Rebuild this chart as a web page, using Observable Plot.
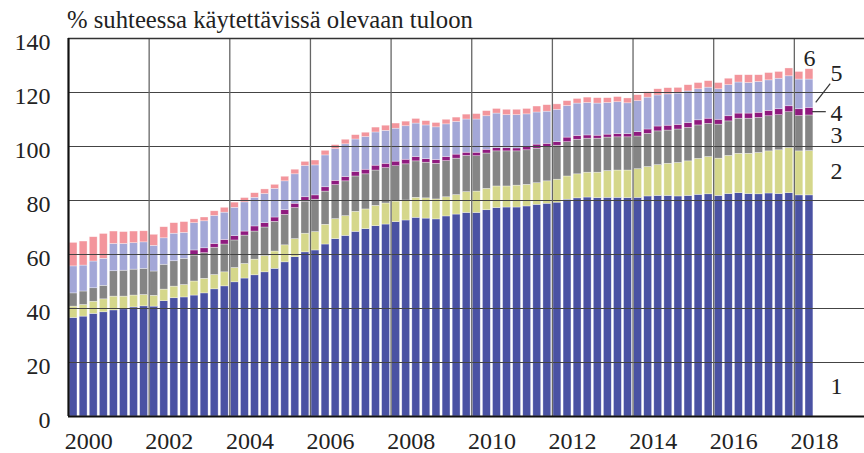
<!DOCTYPE html>
<html><head><meta charset="utf-8">
<script src="https://cdn.jsdelivr.net/npm/d3@7"></script>
<script src="https://cdn.jsdelivr.net/npm/@observablehq/plot@0.6"></script>
<style>body{margin:0;background:#fff}#chart svg{display:block}</style>
</head><body><div id="chart"></div>
<script>
const titleText = "% suhteessa käytettävissä olevaan tuloon";
const startYear = 2000;
const seriesNames = ["1","2","3","4","5","6"];
const yTicks = [0,20,40,60,80,100,120,140];
const yearLabels = [2000,2002,2004,2006,2008,2010,2012,2014,2016,2018];
const gridYears = [2002,2004,2006,2008,2010,2012,2014,2016,2018];

// quarterly values, 2000Q1 .. 2018Q2
const s1 = [36.5,37.0,38.0,38.6,39.3,39.7,40.4,40.8,
 40.7,42.7,43.8,44.1,44.8,45.6,47.1,48.2,
 49.7,51.1,52.3,53.4,54.7,57.1,59.0,60.8,
 61.5,63.7,65.7,66.9,68.4,69.4,70.5,71.1,
 72.0,72.6,73.6,73.3,73.0,74.1,74.8,75.4,
 75.4,76.4,77.2,77.4,77.4,77.8,78.4,78.8,
 79.2,80.3,80.8,81.1,80.9,81.0,81.0,80.9,
 81.0,81.5,81.7,81.7,81.5,81.7,82.1,82.3,
 81.7,82.4,82.7,82.4,82.3,82.6,82.4,82.7,
 81.9,81.9];
const s2 = [4.2,4.3,4.5,4.8,5.1,4.7,4.4,4.2,
 4.0,4.3,4.3,4.6,5.2,5.4,5.3,5.2,
 5.3,5.4,5.8,6.0,6.4,6.3,6.7,6.9,
 6.8,7.3,7.4,7.3,7.4,7.3,7.5,7.8,
 7.6,7.4,7.4,7.5,7.4,7.1,7.2,7.7,
 7.9,7.9,8.0,7.8,8.1,8.0,8.0,8.3,
 8.5,8.6,8.9,9.2,9.4,9.9,10.1,10.2,
 10.6,10.9,11.4,11.9,12.4,12.8,13.3,13.8,
 13.8,14.1,14.6,14.9,15.3,15.6,16.2,16.7,
 16.3,16.4];
const s3 = [4.9,5.0,5.0,5.0,9.4,9.6,9.6,9.7,
 9.0,9.2,9.4,9.7,9.6,9.5,10.1,10.3,
 10.2,10.5,10.4,10.6,11.0,11.3,11.5,11.9,
 12.0,12.3,12.6,12.9,13.1,13.0,13.1,13.1,
 13.1,13.4,13.5,13.2,13.2,13.4,13.5,13.4,
 13.1,13.1,13.0,13.0,12.7,12.8,12.8,12.7,
 12.6,12.7,12.8,12.6,12.6,12.4,12.3,12.3,
 12.1,12.3,12.5,12.3,12.4,12.4,12.4,12.3,
 12.6,12.8,13.0,13.0,13.0,13.0,13.0,13.3,
 13.1,13.2];
const s4 = [0,0,0,0,0,0,0,0,
 0,0,0,0,1.9,1.8,1.4,1.7,
 1.6,1.5,1.9,1.6,1.6,1.7,1.6,1.6,
 1.6,1.6,1.6,1.6,1.7,1.7,1.8,1.6,
 1.7,1.7,1.6,1.3,1.4,1.5,1.5,1.2,
 1.3,1.4,1.2,1.2,1.1,1.2,1.5,1.2,
 1.3,1.7,1.4,1.2,1.1,1.1,1.2,1.2,
 1.6,1.6,1.8,1.8,1.7,1.8,1.9,1.9,
 1.8,1.9,1.9,1.9,1.9,2.0,2.2,2.2,
 2.5,2.8];
const s5 = [10.0,9.6,9.9,10.0,10.1,9.9,9.8,9.8,
 9.5,9.8,10.2,9.6,10.1,10.0,10.4,10.1,
 10.5,10.8,10.6,10.8,10.6,10.7,10.9,11.6,
 11.1,11.8,11.7,12.1,12.0,12.1,12.3,12.2,
 12.2,12.4,12.4,12.5,12.1,12.1,12.1,12.3,
 12.3,12.4,12.8,12.2,12.3,12.1,11.9,11.9,
 12.0,11.7,12.0,12.0,11.9,11.7,11.8,11.4,
 11.5,11.8,11.5,11.6,11.6,11.7,11.5,11.5,
 11.3,11.5,11.5,11.3,11.4,11.3,11.3,11.1,
 11.0,10.5];
const s6 = [8.7,8.9,9.0,9.2,4.6,4.4,4.3,4.1,
 4.1,4.1,3.9,4.0,1.4,1.4,1.7,1.8,
 1.9,1.6,1.7,1.7,1.5,1.7,1.7,1.5,
 1.8,1.7,1.5,1.7,1.6,1.6,1.8,1.9,
 1.9,1.7,1.7,1.6,1.6,1.7,1.6,1.8,
 2.0,1.9,1.7,2.0,2.0,2.0,2.2,2.4,
 2.0,1.8,1.7,2.0,2.0,1.8,1.9,1.8,
 2.2,2.0,2.3,2.3,2.1,2.3,2.3,2.4,
 2.3,2.4,2.7,2.9,2.5,2.7,2.5,2.9,
 2.8,3.8];

const seriesValues = [s1,s2,s3,s4,s5,s6];
const colors = ["#4a52a3","#d5d78b","#858585","#8f1a7f","#a3a7d7","#f3959c"];
const ink = "#222";

const periods = s1.map((_, i) => startYear + i / 4);
const table = [];
periods.forEach((t, i) => seriesValues.forEach((arr, k) => {
  if (arr[i] > 0) table.push({t, t2: t + 0.25, series: seriesNames[k], value: arr[i]});
}));

// last-bar segment positions for the labels
const lastI = periods.length - 1;
const lastT = periods[lastI];
const edge = lastT + 0.25;
const lastVals = seriesValues.map(a => a[lastI]);
const tops = Array.from(d3.cumsum(lastVals));
const mids = tops.map((v, k) => v - lastVals[k] / 2);
const labelDy = [80, -2, 2, 2, -20, -11];

const labelMarks = seriesNames.map((name, k) => {
  if (k === 5) {
    return Plot.text([name], {x: lastT + 0.125, y: tops[5], text: d => d, textAnchor: "middle", dy: labelDy[k], fontSize: 24, fill: ink});
  }
  return Plot.text([name], {x: edge, y: mids[k], text: d => d, textAnchor: "start", dx: 16, dy: labelDy[k], fontSize: 24, fill: ink});
});

const chart = Plot.plot({
  width: 864,
  height: 453,
  marginLeft: 68,
  marginRight: 0,
  marginTop: 38,
  marginBottom: 37,
  style: {fontFamily: "'Liberation Serif', serif", color: ink, background: "#fff"},
  x: {domain: [2000, 2019.74], axis: null, label: null},
  y: {domain: [0, 140], axis: null, label: null},
  color: {domain: seriesNames, range: colors},
  marks: [
    Plot.rectY(table, Plot.stackY({x1: "t", x2: "t2", y: "value", z: "series", fill: "series",
      insetLeft: 1.1, insetRight: 1.1, stroke: "#fff", strokeOpacity: 0.55, strokeWidth: 0.6})),
    Plot.ruleY(yTicks.filter(v => v > 0 && v < 140), {stroke: "#444", strokeWidth: 1.2}),
    Plot.ruleX(gridYears, {stroke: "#666", strokeWidth: 1.3}),
    Plot.ruleY([140], {stroke: "#333", strokeWidth: 1.4}),
    Plot.ruleY([0], {stroke: "#111", strokeWidth: 2.2}),
    Plot.ruleX([2000], {stroke: "#111", strokeWidth: 2.2}),
    Plot.axisY({ticks: yTicks, label: null, tickSize: 0, tickPadding: 18, fontSize: 24, dy: 4, tickFormat: d => String(d), fill: ink}),
    Plot.axisX({ticks: yearLabels.map(y => y + 0.5), label: null, tickSize: 0, tickPadding: 15, fontSize: 24, tickFormat: d => String(d - 0.5), fill: ink}),
    Plot.link([0], {x1: edge - 0.06, x2: edge + 0.28, y1: mids[3], y2: mids[3], stroke: "#333", strokeWidth: 1.2}),
    Plot.link([0], {x1: edge + 0.03, x2: edge + 0.39, y1: tops[3] + 2, y2: tops[3] + 9, stroke: "#333", strokeWidth: 1.2}),
    ...labelMarks,
    Plot.text([titleText], {frameAnchor: "top-left", text: d => d, textAnchor: "start", lineAnchor: "bottom", dx: -1.5, dy: -11, fontSize: 24.7, fill: ink})
  ]
});
document.getElementById("chart").appendChild(chart);
</script>
</body></html>
